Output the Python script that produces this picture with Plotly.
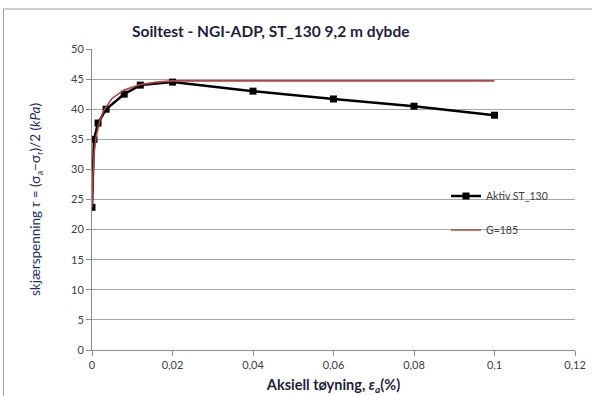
import plotly.graph_objects as go

# Measured test data (Aktiv ST_130)
strain_test = [0.0, 0.0005, 0.0015, 0.0035, 0.008, 0.012, 0.02, 0.04, 0.06, 0.08, 0.1]
tau_test = [23.7, 35.0, 37.7, 40.0, 42.5, 44.0, 44.5, 43.0, 41.7, 40.5, 39.0]

# Model curve (G=185)
strain_model = [0.0, 0.0001, 0.0002, 0.0005, 0.001, 0.002, 0.003, 0.005, 0.008, 0.012, 0.016, 0.02, 0.1]
tau_model = [23.7, 26.5, 28.5, 32.5, 35.3, 38.3, 39.9, 41.8, 43.2, 44.1, 44.5, 44.7, 44.7]

x_tickvals = [0, 0.02, 0.04, 0.06, 0.08, 0.1, 0.12]
x_ticktext = ["0", "0,02", "0,04", "0,06", "0,08", "0,1", "0,12"]
y_tickvals = [0, 5, 10, 15, 20, 25, 30, 35, 40, 45, 50]

FONT = "Lato, 'Open Sans', sans-serif"

fig = go.Figure()
fig.add_trace(go.Scatter(
    x=strain_test, y=tau_test, name="Aktiv ST_130", mode="lines+markers",
    line=dict(color="black", width=2.5),
    marker=dict(symbol="square", size=7, color="black"),
    legend="legend",
))
fig.add_trace(go.Scatter(
    x=strain_model, y=tau_model, name="G=185", mode="lines",
    line=dict(color="#B8433F", width=1.6),
    legend="legend2",
))

L, R, T, B = 92, 17, 49, 46
W, H = 592, 396
pw, ph = W - L - R, H - T - B
def px(x):
    return (x - L) / pw
def py(y):
    return (H - B - y) / ph

fig.update_layout(
    width=W, height=H,
    margin=dict(l=L, r=R, t=T, b=B),
    paper_bgcolor="white", plot_bgcolor="white",
    separators=", ",
    font=dict(family=FONT, size=11, color="#404040"),
    showlegend=True,
    legend=dict(x=px(446), y=py(196), xanchor="left", yanchor="middle",
                bgcolor="rgba(0,0,0,0)", font=dict(size=10.5, color="#404040"),
                itemwidth=30),
    legend2=dict(x=px(446), y=py(230), xanchor="left", yanchor="middle",
                 bgcolor="rgba(0,0,0,0)", font=dict(size=10.5, color="#404040"),
                 itemwidth=30),
    xaxis=dict(
        range=[0, 0.12], tickvals=x_tickvals, ticktext=x_ticktext,
        showgrid=False, zeroline=False, automargin=False,
        showline=True, linecolor="#8c8c8c", linewidth=1,
        ticks="outside", ticklen=5, tickcolor="#8c8c8c",
        tickfont=dict(size=11, color="#404040"),
        title=dict(text="<b>Aksiell tøyning, <i>ε<sub>a</sub></i>(%)</b>",
                   font=dict(size=14.5, color="#1f1f3a"), standoff=9),
    ),
    yaxis=dict(
        range=[0, 50], tickvals=y_tickvals,
        showgrid=True, gridcolor="#a6a6a6", gridwidth=1, zeroline=False,
        automargin=False,
        showline=True, linecolor="#8c8c8c", linewidth=1,
        ticks="outside", ticklen=5, tickcolor="#8c8c8c",
        tickfont=dict(size=11, color="#404040"),
        title=dict(text="skjærspenning <i>τ</i> = (σ<sub>a</sub>−σ<sub>r</sub>)/2 (<i>kPa</i>)",
                   font=dict(size=13.5, color="#1f2a6b"), standoff=27),
    ),
    shapes=[
        dict(type="rect", xref="paper", yref="paper",
             x0=px(422), x1=1.0, y0=py(247), y1=py(178),
             fillcolor="white", line=dict(width=0), layer="between"),
        dict(type="rect", xref="paper", yref="paper",
             x0=px(3.5), x1=px(620), y0=py(420), y1=py(9),
             fillcolor="rgba(0,0,0,0)", line=dict(color="#a0a0a0", width=1),
             layer="below"),
    ],
    annotations=[
        dict(text="<b>Soiltest - NGI-ADP, ST_130 9,2 m dybde</b>",
             xref="paper", yref="paper", x=px(270), y=py(31),
             xanchor="center", yanchor="middle", showarrow=False,
             font=dict(size=15.5, color="#1f1f3a")),
    ],
)

fig.write_html("out.html")
